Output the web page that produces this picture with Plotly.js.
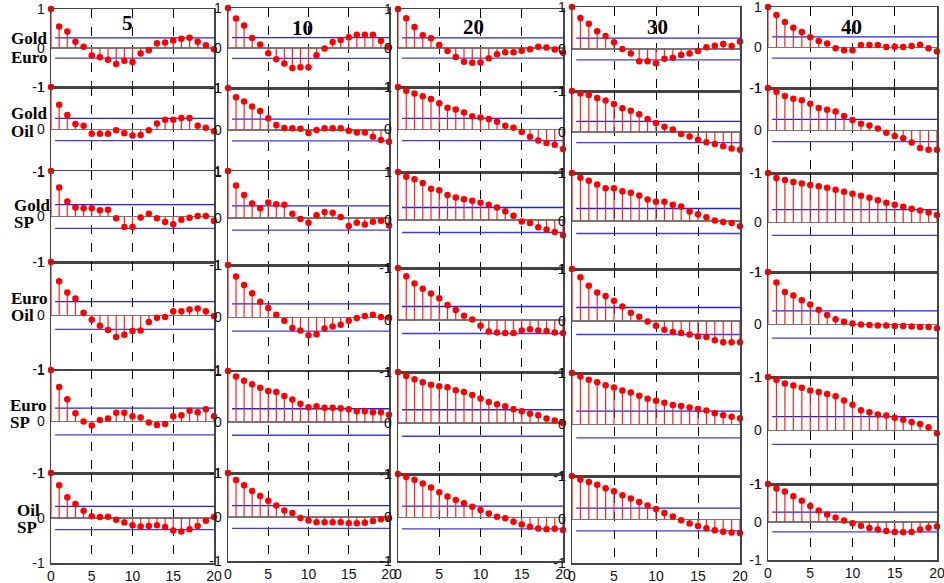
<!DOCTYPE html>
<html><head><meta charset="utf-8">
<script src="https://cdn.plot.ly/plotly-3.0.1.min.js"></script>
<style>html,body{margin:0;padding:0;background:#fff;}#chart{width:944px;height:583px;}</style>
</head><body><div id="chart"></div>
<script>
// ---------- data ----------
const lags = [0,1,2,3,4,5,6,7,8,9,10,11,12,13,14,15,16,17,18,19,20];
const windows = ["5","10","20","30","40"];
const pairTop = ["Gold","Gold","Gold","Euro","Euro","Oil"];
const pairBottom = ["Euro","Oil","SP","Oil","SP","SP"];
const confBound = 0.26;
const yTickVals = [-1,0,1];
const yTickText = ["-1","0","1"];
const xTickVals = [0,5,10,15,20];

const goldEuro5 = [1,0.55,0.42,0.16,0.03,-0.19,-0.24,-0.30,-0.41,-0.33,-0.36,-0.14,-0.06,0.12,0.14,0.19,0.24,0.26,0.16,0.07,-0.03];
const goldOil5  = [1,0.58,0.34,0.13,0.09,-0.10,-0.10,-0.10,-0.02,-0.09,-0.14,-0.13,-0.02,0.14,0.23,0.23,0.27,0.27,0.09,0.04,-0.04];
const goldSP5   = [1,0.64,0.33,0.20,0.18,0.18,0.14,0.15,-0.04,-0.23,-0.23,-0.02,0.06,-0.04,-0.12,-0.17,-0.07,-0.03,0.01,0.01,-0.10];
const euroOil5  = [1,0.64,0.43,0.32,0.05,-0.08,-0.19,-0.27,-0.40,-0.36,-0.29,-0.28,-0.12,-0.04,-0.03,0.08,0.08,0.11,0.13,0.08,-0.01];
const euroSP5   = [1,0.67,0.43,0.16,0.00,-0.08,0.03,0.06,0.17,0.17,0.10,0.08,-0.02,-0.07,-0.05,0.10,0.12,0.21,0.18,0.24,0.10];
const oilSP5    = [1,0.73,0.46,0.31,0.16,0.04,0.02,0.03,-0.04,-0.10,-0.16,-0.19,-0.18,-0.16,-0.20,-0.28,-0.30,-0.25,-0.18,-0.06,0.02];

const goldEuro10 = [1,0.74,0.56,0.25,0.09,-0.13,-0.28,-0.39,-0.50,-0.48,-0.48,-0.18,-0.01,0.15,0.20,0.27,0.33,0.33,0.33,0.18,0.02];
const goldOil10  = [1,0.78,0.68,0.56,0.45,0.28,0.12,0.05,0.04,0.03,-0.07,0.00,0.04,0.04,0.04,-0.02,-0.06,-0.06,-0.16,-0.24,-0.28];
const goldSP10   = [1,0.69,0.49,0.31,0.21,0.33,0.29,0.28,0.09,-0.02,-0.10,0.06,0.13,0.11,0.02,-0.17,-0.10,-0.14,-0.08,-0.06,-0.16];
const euroOil10  = [1,0.78,0.62,0.46,0.30,0.18,0.05,-0.06,-0.20,-0.25,-0.34,-0.32,-0.21,-0.17,-0.14,-0.06,-0.01,0.03,0.05,0.01,0.00];
const euroSP10   = [1,0.89,0.81,0.74,0.67,0.61,0.59,0.51,0.44,0.36,0.29,0.31,0.28,0.28,0.27,0.25,0.21,0.21,0.19,0.19,0.14];
const oilSP10    = [1,0.84,0.72,0.59,0.48,0.37,0.26,0.15,0.09,-0.02,-0.08,-0.12,-0.12,-0.12,-0.12,-0.14,-0.14,-0.13,-0.09,-0.05,-0.03];

const goldEuro20 = [1,0.76,0.54,0.33,0.25,0.08,-0.08,-0.23,-0.35,-0.38,-0.37,-0.26,-0.16,-0.11,-0.11,-0.07,-0.03,0.03,0.01,-0.04,-0.12];
const goldOil20  = [1,0.91,0.85,0.78,0.72,0.62,0.51,0.47,0.40,0.31,0.28,0.25,0.18,0.09,0.04,-0.06,-0.17,-0.26,-0.32,-0.36,-0.46];
const goldSP20   = [1,0.90,0.85,0.77,0.65,0.62,0.52,0.47,0.43,0.40,0.36,0.32,0.26,0.18,0.09,-0.03,-0.06,-0.15,-0.20,-0.25,-0.32];
const euroOil20  = [1,0.84,0.70,0.60,0.51,0.42,0.29,0.19,0.08,0.01,-0.11,-0.22,-0.24,-0.25,-0.25,-0.20,-0.18,-0.20,-0.21,-0.24,-0.25];
const euroSP20   = [1,0.92,0.86,0.80,0.75,0.72,0.70,0.64,0.61,0.55,0.48,0.41,0.37,0.33,0.27,0.23,0.18,0.15,0.09,0.05,0.00];
const oilSP20    = [1,0.93,0.87,0.78,0.69,0.58,0.48,0.40,0.33,0.25,0.17,0.09,0.02,-0.02,-0.10,-0.16,-0.21,-0.25,-0.27,-0.26,-0.29];

const goldEuro30 = [1,0.74,0.60,0.42,0.31,0.16,0.00,-0.11,-0.29,-0.29,-0.34,-0.23,-0.21,-0.14,-0.11,-0.05,0.04,0.08,0.12,0.07,0.18];
const goldOil30  = [1,0.94,0.90,0.83,0.77,0.68,0.58,0.52,0.43,0.32,0.22,0.13,0.06,-0.05,-0.11,-0.19,-0.25,-0.29,-0.35,-0.40,-0.43];
const goldSP30   = [1,0.90,0.84,0.76,0.68,0.68,0.62,0.59,0.53,0.45,0.40,0.40,0.34,0.30,0.20,0.14,0.08,0.01,-0.02,-0.04,-0.11];
const euroOil30  = [1,0.84,0.68,0.55,0.48,0.39,0.28,0.16,0.08,-0.01,-0.09,-0.17,-0.21,-0.23,-0.26,-0.30,-0.31,-0.37,-0.41,-0.41,-0.41];
const euroSP30   = [1,0.93,0.87,0.82,0.76,0.72,0.66,0.62,0.56,0.50,0.46,0.42,0.38,0.36,0.33,0.30,0.27,0.22,0.18,0.15,0.12];
const oilSP30    = [1,0.92,0.86,0.80,0.72,0.65,0.56,0.48,0.40,0.32,0.24,0.15,0.07,-0.02,-0.09,-0.15,-0.20,-0.25,-0.28,-0.30,-0.31];

const goldEuro40 = [1,0.80,0.63,0.49,0.38,0.25,0.16,0.10,-0.02,-0.07,-0.07,0.06,0.06,0.06,0.01,0.02,0.01,0.04,0.07,-0.02,-0.10];
const goldOil40  = [1,0.91,0.81,0.75,0.71,0.63,0.53,0.49,0.45,0.34,0.25,0.16,0.12,0.05,-0.05,-0.13,-0.18,-0.28,-0.41,-0.45,-0.45];
const goldSP40   = [1,0.90,0.86,0.82,0.79,0.76,0.73,0.70,0.66,0.62,0.58,0.54,0.50,0.45,0.40,0.36,0.32,0.28,0.24,0.20,0.15];
const euroOil40  = [1,0.80,0.62,0.55,0.46,0.38,0.28,0.18,0.10,0.05,0.02,0.00,-0.01,-0.02,-0.02,-0.03,-0.03,-0.04,-0.05,-0.05,-0.07];
const euroSP40   = [1,0.95,0.88,0.84,0.80,0.75,0.72,0.68,0.64,0.56,0.48,0.38,0.34,0.30,0.28,0.24,0.20,0.16,0.12,0.06,-0.05];
const oilSP40    = [1,0.88,0.80,0.68,0.56,0.42,0.30,0.20,0.12,0.04,-0.03,-0.10,-0.16,-0.20,-0.24,-0.26,-0.27,-0.26,-0.20,-0.15,-0.12];

const series = [
  [goldEuro5, goldEuro10, goldEuro20, goldEuro30, goldEuro40],
  [goldOil5,  goldOil10,  goldOil20,  goldOil30,  goldOil40],
  [goldSP5,   goldSP10,   goldSP20,   goldSP30,   goldSP40],
  [euroOil5,  euroOil10,  euroOil20,  euroOil30,  euroOil40],
  [euroSP5,   euroSP10,   euroSP20,   euroSP30,   euroSP40],
  [oilSP5,    oilSP10,    oilSP20,    oilSP30,    oilSP40]
];

// ---------- geometry (pixels) ----------
const W = 944, H = 583;
const colX = [[51,214],[228,389],[398,563],[572,740],[768,937]];
const rowY = [
  [[9,87],[87,172],[171,262],[262,369],[370,473],[473,563]],
  [[8,88],[88,172],[171,265],[265,370],[371,473],[473,561]],
  [[9,87],[87,172],[172,268],[268,372],[372,474],[474,561]],
  [[7,91],[91,173],[173,269],[269,373],[373,476],[476,563]],
  [[7,88],[88,173],[173,272],[272,377],[377,484],[484,560]]
];
const titlePos = [[127,23],[302,28],[473,27],[657,27],[851,27]];
const labelPos = [
  [[9,38],[9,57]], [[9,114],[9,132]], [[12,205],[12,222]],
  [[9,298],[9,315]], [[8,405],[8,422]], [[15,510],[15,527]]
];

// ---------- build ----------
const traces = [];
const layout = {
  width: W, height: H,
  margin: {l:0, r:0, t:0, b:0},
  paper_bgcolor: '#fff', plot_bgcolor: '#fff',
  showlegend: false,
  annotations: []
};
const tickFont = {family: 'Liberation Sans, Arial, sans-serif', size: 14, color: '#111'};

for (let r = 0; r < 6; r++) {
  for (let c = 0; c < 5; c++) {
    const n = r * 5 + c + 1;
    const sfx = n === 1 ? '' : String(n);
    const xa = 'x' + sfx, ya = 'y' + sfx;
    const vals = series[r][c];
    const yd = rowY[c][r];
    layout['xaxis' + sfx] = {
      domain: [colX[c][0] / W, colX[c][1] / W],
      anchor: ya, range: [0, 20], tickvals: xTickVals,
      showticklabels: r === 5, ticks: '', ticklabeloverflow: 'allow',
      showgrid: true, gridcolor: '#000', griddash: 'dash', gridwidth: 1,
      zeroline: false, showline: true, mirror: true, linecolor: '#444', linewidth: 1.5,
      tickfont: tickFont, fixedrange: true
    };
    layout['yaxis' + sfx] = {
      domain: [1 - yd[1] / H, 1 - yd[0] / H],
      anchor: xa, range: [-1, 1], tickvals: yTickVals, ticktext: yTickText,
      ticks: '', showgrid: false, ticklabeloverflow: 'allow',
      zeroline: true, zerolinecolor: '#777', zerolinewidth: 1.5,
      showline: true, mirror: true, linecolor: '#444', linewidth: 1.5,
      tickfont: tickFont, ticklabelstandoff: 2, fixedrange: true
    };
    // confidence bounds
    traces.push({x: [0.5, 20], y: [confBound, confBound], xaxis: xa, yaxis: ya,
      mode: 'lines', line: {color: '#1f1fff', width: 1.3}, hoverinfo: 'skip'});
    traces.push({x: [0.5, 20], y: [-confBound, -confBound], xaxis: xa, yaxis: ya,
      mode: 'lines', line: {color: '#3a3aff', width: 1.3}, hoverinfo: 'skip'});
    // stems
    const sx = [], sy = [];
    lags.forEach((l, i) => { sx.push(l, l, null); sy.push(0, vals[i], null); });
    traces.push({x: sx, y: sy, xaxis: xa, yaxis: ya, mode: 'lines',
      line: {color: '#ff2020', width: 1.2}, hoverinfo: 'skip', cliponaxis: false});
    // markers
    traces.push({x: lags, y: vals, xaxis: xa, yaxis: ya, mode: 'markers',
      marker: {color: '#ff0000', size: 6.5}, cliponaxis: false});
  }
}

windows.forEach((w, c) => {
  layout.annotations.push({
    text: '<b>' + w + '</b>', xref: 'paper', yref: 'paper',
    x: titlePos[c][0] / W, y: 1 - titlePos[c][1] / H,
    xanchor: 'center', yanchor: 'middle', showarrow: false,
    font: {family: 'Liberation Serif, Times New Roman, serif', size: 21, color: '#000'}
  });
});
for (let r = 0; r < 6; r++) {
  [pairTop[r], pairBottom[r]].forEach((t, k) => {
    layout.annotations.push({
      text: '<b>' + t + '</b>', xref: 'paper', yref: 'paper',
      x: labelPos[r][k][0] / W, y: 1 - labelPos[r][k][1] / H,
      xanchor: 'left', yanchor: 'middle', showarrow: false,
      font: {family: 'Liberation Serif, Times New Roman, serif', size: 17, color: '#000'}
    });
  });
}

Plotly.newPlot('chart', traces, layout, {staticPlot: true});
</script>
</body></html>
